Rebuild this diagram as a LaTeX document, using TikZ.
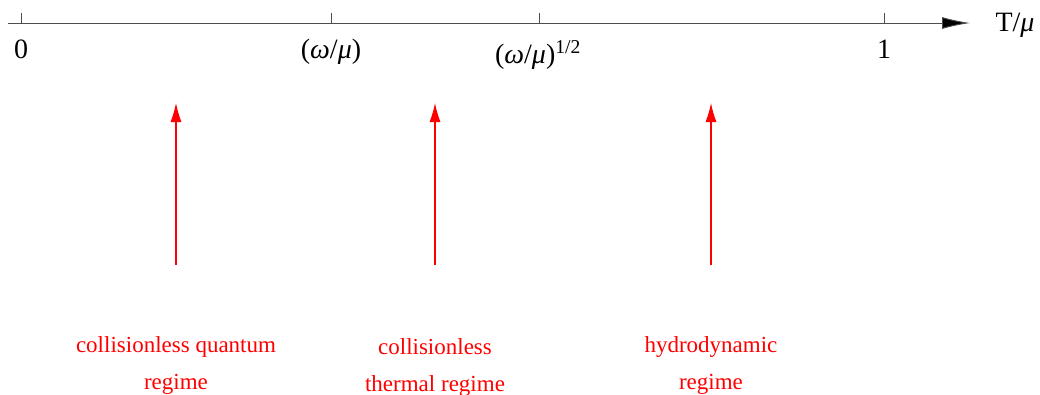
\documentclass[tikz,border=0pt]{standalone}
\usepackage{fontspec}
\setmainfont{Liberation Serif}
\usetikzlibrary{arrows.meta}
\begin{document}
\begin{tikzpicture}[x=1pt,y=-1pt,
  axislbl/.style={font=\fontsize{28}{32}\selectfont, anchor=base, inner sep=0pt},
  regime/.style={font=\fontsize{23}{37}\selectfont, text=red, align=center, anchor=base, inner sep=0pt},
  regarrow/.style={color=red, line width=1.1pt, -{Latex[length=19pt,width=11pt]}},
  tickline/.style={draw=black!70, line width=0.8pt}]
\useasboundingbox (0,0) rectangle (1040,394);
% axis
\coordinate (a0) at (8,23);
\coordinate (a1) at (970,23);
\draw[draw=black!70, line width=0.9pt, -{Latex[length=28pt,width=12pt,fill=black]}] (a0) -- (a1);
% ticks
\foreach \n/\x in {t0/21, t1/331, t2/539, t3/884}{
  \coordinate (\n) at (\x,23);
  \draw[tickline] (\n) -- ++(0,-10);
}
% tick labels
\node[axislbl] (l0) at (21,58) {0};
\node[axislbl] (l1) at (331,58) {({\itshape ω}/{\itshape μ})};
\node[axislbl] (l2) at (538,63) {({\itshape ω}/{\itshape μ})\textsuperscript{1/2}};
\node[axislbl] (l3) at (884,58) {1};
\node[axislbl] (lT) at (1015,31) {T/{\itshape μ}};
% regime arrows
\foreach \n/\x in {r1/176, r2/435, r3/711}{
  \coordinate (\n b) at (\x,265);
  \coordinate (\n t) at (\x,103);
  \draw[regarrow] (\n b) -- (\n t);
}
% regime labels
\node[regime] (g1) at (176,389) {collisionless quantum\\regime};
\node[regime] (g2) at (435,391) {collisionless\\thermal regime};
\node[regime] (g3) at (711,389) {hydrodynamic\\regime};
\end{tikzpicture}
\end{document}
